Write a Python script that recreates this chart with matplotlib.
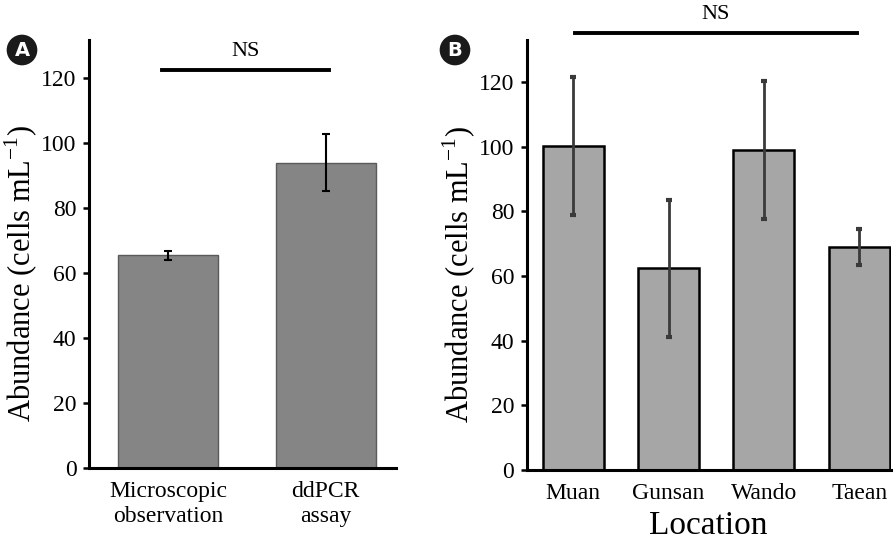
import matplotlib
matplotlib.use("Agg")
import matplotlib.pyplot as plt

plt.rcParams['font.family'] = ['Liberation Serif', 'DejaVu Serif']

# Panel A
metodos = ["Microscopic\nobservation", "ddPCR\nassay"]
abund_a = [65.5, 94.1]
err_a = [1.3, 8.9]

# Panel B
sitios = ["Muan", "Gunsan", "Wando", "Taean"]
abund_b = [100.2, 62.4, 98.9, 69.0]
err_b = [21.2, 21.2, 21.3, 5.5]

yticks = [0, 20, 40, 60, 80, 100, 120]
ylabel = "Abundance (cells mL$^{\\mathregular{-1}}$)"

fig = plt.figure(figsize=(8.96, 5.43), dpi=100)
ax1 = fig.add_axes([0.0993, 0.1381, 0.3426, 0.788])
ax2 = fig.add_axes([0.588, 0.1344, 0.406, 0.792])


def estilo(ax, xlab):
    for s in ["top", "right"]:
        ax.spines[s].set_visible(False)
    ax.spines["left"].set_linewidth(2.2)
    ax.spines["bottom"].set_linewidth(2.2)
    ax.tick_params(axis="y", length=4, width=1.8, labelsize=17, pad=5)
    ax.tick_params(axis="x", length=0, labelsize=17, pad=9)
    ax.set_yticks(yticks)
    ax.set_ylabel(ylabel, fontsize=22)
    ax.yaxis.set_label_coords(xlab, 0.455)


# A
xa = list(range(len(metodos)))
ax1.bar(xa, abund_a, width=0.637, color="#858585", edgecolor="#5a5a5a", linewidth=1.0)
ax1.errorbar(xa, abund_a, yerr=err_a, fmt="none", ecolor="black",
             elinewidth=1.5, capsize=3, capthick=1.5)
ax1.set_xticks(xa)
ax1.set_xticklabels(metodos, linespacing=1.3)
ax1.set_xlim(-0.503, 1.446)
ax1.set_ylim(0, 131.8)
estilo(ax1, -0.16)
ax1.plot([-0.04, 1.02], [122.5, 122.5], color="black", linewidth=2.8,
         clip_on=False)
ax1.text(0.49, 125.5, "NS", ha="center", va="bottom", fontsize=16)

# B
xb = list(range(len(sitios)))
ax2.bar(xb, abund_b, width=0.64, color="#a6a6a6", edgecolor="black", linewidth=1.8)
ax2.errorbar(xb, abund_b, yerr=err_b, fmt="none", ecolor="#3a3a3a",
             elinewidth=2.0, capsize=2, capthick=3)
ax2.set_xticks(xb)
ax2.set_xticklabels(sitios)
ax2.set_xlim(-0.488, 3.33)
ax2.set_ylim(0, 133)
estilo(ax2, -0.135)
ax2.set_xlabel("Location", fontsize=24, labelpad=5)
ax2.plot([0.015, 2.975], [135, 135], color="black", linewidth=2.8,
         clip_on=False)
ax2.text(1.495, 138, "NS", ha="center", va="bottom", fontsize=16)

# letras de panel
for x, letra in [(22, "A"), (455, "B")]:
    fig.text(x / 896, 1 - 50 / 543, letra, ha="center", va="center",
             fontsize=14, fontweight="bold", color="white", family="DejaVu Sans",
             bbox=dict(boxstyle="circle,pad=0.3", facecolor="#1a1a1a",
                       edgecolor="none"))

fig.savefig("out.png", dpi=100)
